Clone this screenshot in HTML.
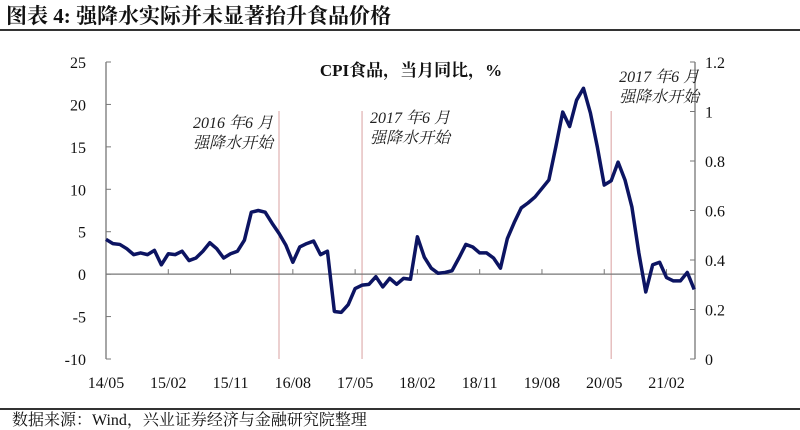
<!DOCTYPE html>
<html><head><meta charset="utf-8"><style>
body{margin:0;background:#fff;}
svg{display:block;font-family:"Liberation Serif","Noto Serif CJK SC",serif;}
</style></head><body>
<svg id="chart" width="800" height="430">
<text x="6" y="23" font-size="21" font-weight="bold" fill="#111">图表 4:  强降水实际并未显著抬升食品价格</text>
<line x1="0" y1="30" x2="800" y2="30" stroke="#333" stroke-width="2"/>
<text x="411" y="76" font-size="17" font-weight="bold" text-anchor="middle" fill="#111">CPI食品，当月同比，%</text>
<line x1="0" y1="409" x2="800" y2="409" stroke="#333" stroke-width="2"/>
<text x="12" y="425" font-size="16" fill="#111">数据来源：Wind，兴业证券经济与金融研究院整理</text>
<g id="plot"></g>
</svg>
<script>
const values=[4.1,3.6,3.5,3.0,2.3,2.5,2.3,2.8,1.1,2.4,2.3,2.7,1.6,1.9,2.7,3.7,3.0,1.9,2.4,2.7,4.0,7.3,7.5,7.3,6.0,4.8,3.4,1.4,3.2,3.6,3.9,2.3,2.7,-4.4,-4.5,-3.6,-1.7,-1.3,-1.2,-0.3,-1.5,-0.5,-1.2,-0.5,-0.6,4.4,2.0,0.7,0.1,0.2,0.4,1.9,3.5,3.2,2.5,2.5,1.9,0.7,4.2,6.1,7.8,8.4,9.1,10.1,11.1,15.0,19.1,17.4,20.5,21.9,19.0,15.0,10.5,11.0,13.2,11.1,7.9,2.5,-2.1,1.1,1.4,-0.4,-0.8,-0.8,0.2,-1.8];
const xLabels=["14/05","15/02","15/11","16/08","17/05","18/02","18/11","19/08","20/05","21/02"];
const labelStep=9;
const leftTicks=[25,20,15,10,5,0,-5,-10];
const rightTicks=[1.2,1,0.8,0.6,0.4,0.2,0];
const markerIdx=[25,37,73];
const annotations=[{i:25,l1:"2016 年6 月",l2:"强降水开始",side:-1,y:123},{i:37,l1:"2017 年6 月",l2:"强降水开始",side:1,y:118},{i:73,l1:"2017 年6 月",l2:"强降水开始",side:1,y:77}];
const X0=106,XR=695,YT=62,YB=359,DX=6.92;
const x=i=>X0+i*DX;
const y=v=>YT+(25-v)/35*(YB-YT);
const yr=v=>YB-v/1.2*(YB-YT);
const g=document.getElementById('plot');
const NS='http://www.w3.org/2000/svg';
function mk(t,a,txt){const e=document.createElementNS(NS,t);for(const k in a)e.setAttribute(k,a[k]);if(txt!==undefined)e.textContent=txt;g.appendChild(e);return e;}
markerIdx.forEach((i,k)=>{const ln=mk('line',{x1:x(i),x2:x(i),y1:111,y2:YB,stroke:'#d9a0a0','stroke-width':1});

});
let a=mk('line',{x1:X0,x2:X0,y1:YT,y2:YB,stroke:'#777','stroke-width':1.3});


a=mk('line',{x1:XR,x2:XR,y1:YT,y2:YB,stroke:'#777','stroke-width':1.3});


a=mk('line',{x1:X0,x2:XR,y1:y(0),y2:y(0),stroke:'#777','stroke-width':1.3});


leftTicks.forEach(v=>{mk('line',{x1:X0,x2:X0+5,y1:y(v),y2:y(v),stroke:'#777'});
const t=mk('text',{x:86,y:y(v)+6,'font-size':16,'text-anchor':'end',fill:'#111'},String(v));

});
rightTicks.forEach(v=>{mk('line',{x1:XR-5,x2:XR,y1:yr(v),y2:yr(v),stroke:'#777'});
const t=mk('text',{x:705,y:yr(v)+6,'font-size':16,fill:'#111'},String(v));

});
xLabels.forEach((s,k)=>{const xi=x(k*labelStep);if(k>0)mk('line',{x1:xi,x2:xi,y1:y(0)-5,y2:y(0),stroke:'#777'});
const t=mk('text',{x:xi,y:388,'font-size':16,'text-anchor':'middle',fill:'#111'},s);

});
annotations.forEach(o=>{const xa=o.side<0?x(o.i)-6:x(o.i)+8;const anc=o.side<0?'end':'start';
const t1=mk('text',{x:xa,y:o.y+5,'font-size':16,'font-style':'italic','text-anchor':anc,fill:'#222'},o.l1);


const t2=mk('text',{x:xa,y:o.y+25,'font-size':16,'font-style':'italic','text-anchor':anc,fill:'#222'},o.l2);

});
const p=mk('polyline',{points:values.map((v,i)=>x(i)+','+y(v)).join(' '),fill:'none',stroke:'#0c1462','stroke-width':3.5,'stroke-linejoin':'round'});


</script>
</body></html>
